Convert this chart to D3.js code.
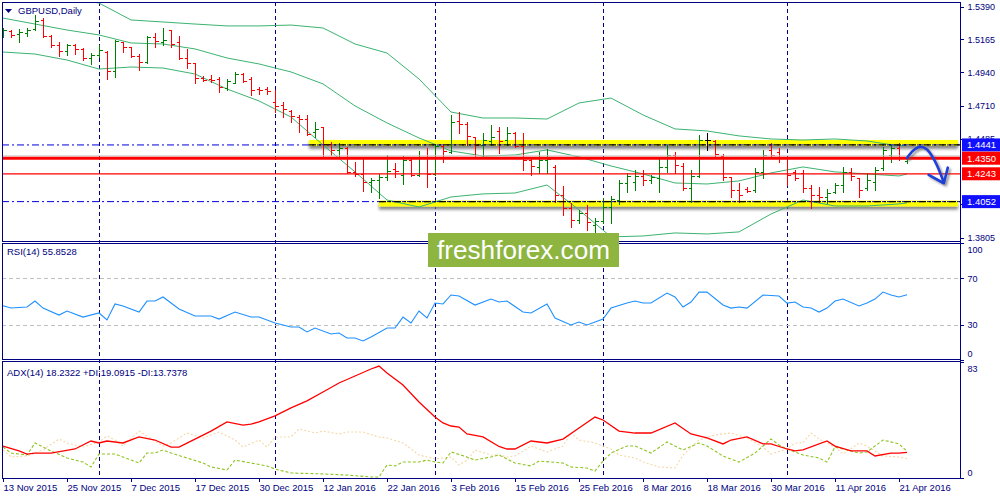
<!DOCTYPE html>
<html><head><meta charset="utf-8">
<script src="https://cdn.jsdelivr.net/npm/d3@7/dist/d3.min.js"></script>
<style>
body{margin:0;background:#fff}
svg{display:block}
text{font-family:"Liberation Sans",Arial,sans-serif}
</style></head>
<body><svg id="c" width="1000" height="500"></svg>
<script>
// ---------------- DATA ----------------
const dates = ["13 Nov 2015","16 Nov 2015","17 Nov 2015","18 Nov 2015","19 Nov 2015","20 Nov 2015","23 Nov 2015","24 Nov 2015","25 Nov 2015","26 Nov 2015","27 Nov 2015","30 Nov 2015",
"1 Dec 2015","2 Dec 2015","3 Dec 2015","4 Dec 2015","7 Dec 2015","8 Dec 2015","9 Dec 2015","10 Dec 2015","11 Dec 2015","14 Dec 2015","15 Dec 2015","16 Dec 2015","17 Dec 2015","18 Dec 2015","21 Dec 2015","22 Dec 2015","23 Dec 2015","24 Dec 2015","28 Dec 2015","29 Dec 2015","30 Dec 2015","31 Dec 2015",
"4 Jan 2016","5 Jan 2016","6 Jan 2016","7 Jan 2016","8 Jan 2016","11 Jan 2016","12 Jan 2016","13 Jan 2016","14 Jan 2016","15 Jan 2016","18 Jan 2016","19 Jan 2016","20 Jan 2016","21 Jan 2016","22 Jan 2016","25 Jan 2016","26 Jan 2016","27 Jan 2016","28 Jan 2016","29 Jan 2016",
"1 Feb 2016","2 Feb 2016","3 Feb 2016","4 Feb 2016","5 Feb 2016","8 Feb 2016","9 Feb 2016","10 Feb 2016","11 Feb 2016","12 Feb 2016","15 Feb 2016","16 Feb 2016","17 Feb 2016","18 Feb 2016","19 Feb 2016","22 Feb 2016","23 Feb 2016","24 Feb 2016","25 Feb 2016","26 Feb 2016","29 Feb 2016",
"1 Mar 2016","2 Mar 2016","3 Mar 2016","4 Mar 2016","7 Mar 2016","8 Mar 2016","9 Mar 2016","10 Mar 2016","11 Mar 2016","14 Mar 2016","15 Mar 2016","16 Mar 2016","17 Mar 2016","18 Mar 2016","21 Mar 2016","22 Mar 2016","23 Mar 2016","24 Mar 2016","25 Mar 2016","28 Mar 2016","29 Mar 2016","30 Mar 2016","31 Mar 2016",
"1 Apr 2016","4 Apr 2016","5 Apr 2016","6 Apr 2016","7 Apr 2016","8 Apr 2016","11 Apr 2016","12 Apr 2016","13 Apr 2016","14 Apr 2016","15 Apr 2016","18 Apr 2016","19 Apr 2016","20 Apr 2016","21 Apr 2016","22 Apr 2016"];

const opens = [1.5196,1.5223,1.5203,1.5209,1.5237,1.5299,1.5189,1.5127,1.5086,1.5127,1.5099,1.5038,1.5059,1.5079,1.4949,1.5147,1.5113,1.5052,1.5010,1.5182,
1.5147,1.5230,1.5147,1.5038,1.5004,1.4901,1.4894,1.4894,1.4833,1.4867,1.4929,1.4894,1.4826,1.4826,1.4736,1.4715,1.4674,1.4633,1.4619,1.4530,
1.4565,1.4448,1.4407,1.4420,1.4256,1.4242,1.4187,1.4201,1.4221,1.4276,1.4235,1.4338,1.4235,1.4359,1.4242,1.4434,1.4393,1.4606,1.4585,1.4496,
1.4441,1.4468,1.4537,1.4475,1.4523,1.4434,1.4338,1.4290,1.4338,1.4290,1.4098,1.4009,1.3926,1.3974,1.3892,1.3919,1.4015,1.4063,1.4180,1.4187,
1.4228,1.4201,1.4214,1.4290,1.4372,1.4297,1.4146,1.4228,1.4475,1.4468,1.4365,1.4221,1.4132,1.4139,1.4132,1.4256,1.4407,1.4393,1.4352,1.4256,
1.4249,1.4146,1.4098,1.4084,1.4118,1.4166,1.4256,1.4214,1.4146,1.4187,1.4283,1.4372,1.4420,1.4331];
const highs = [1.5244,1.5230,1.5237,1.5244,1.5333,1.5312,1.5196,1.5147,1.5134,1.5134,1.5106,1.5072,1.5127,1.5086,1.5161,1.5147,1.5113,1.5066,1.5189,1.5209,
1.5244,1.5230,1.5189,1.5099,1.5004,1.4915,1.4922,1.4908,1.4894,1.4942,1.4935,1.4908,1.4840,1.4840,1.4818,1.4736,1.4681,1.4647,1.4647,1.4599,
1.4565,1.4462,1.4455,1.4427,1.4324,1.4345,1.4215,1.4242,1.4372,1.4317,1.4365,1.4359,1.4400,1.4420,1.4441,1.4448,1.4647,1.4667,1.4599,1.4496,
1.4523,1.4578,1.4565,1.4565,1.4530,1.4523,1.4359,1.4393,1.4414,1.4304,1.4160,1.4043,1.3995,1.4029,1.3940,1.4077,1.4091,1.4201,1.4249,1.4269,
1.4269,1.4235,1.4359,1.4441,1.4393,1.4317,1.4269,1.4510,1.4523,1.4475,1.4379,1.4221,1.4180,1.4153,1.4283,1.4407,1.4455,1.4420,1.4359,1.4269,
1.4269,1.4166,1.4153,1.4139,1.4180,1.4290,1.4283,1.4214,1.4249,1.4290,1.4427,1.4441,1.4455,1.4352];
const lows = [1.5182,1.5182,1.5147,1.5189,1.5230,1.5182,1.5113,1.5052,1.5059,1.5066,1.5024,1.4997,1.5045,1.4894,1.4908,1.5079,1.5045,1.4956,1.5004,1.5113,
1.5127,1.5113,1.5031,1.4970,1.4867,1.4881,1.4874,1.4805,1.4818,1.4867,1.4874,1.4784,1.4791,1.4791,1.4668,1.4633,1.4599,1.4530,1.4510,1.4496,
1.4359,1.4372,1.4359,1.4249,1.4228,1.4125,1.4118,1.4077,1.4201,1.4221,1.4173,1.4228,1.4228,1.4153,1.4235,1.4324,1.4386,1.4523,1.4441,1.4359,
1.4359,1.4441,1.4386,1.4441,1.4427,1.4269,1.4235,1.4249,1.4249,1.4050,1.3961,1.3878,1.3906,1.3858,1.3844,1.3906,1.3906,1.4036,1.4118,1.4132,
1.4166,1.4180,1.4118,1.4256,1.4249,1.4132,1.4050,1.4221,1.4407,1.4359,1.4201,1.4084,1.4050,1.4118,1.4118,1.4214,1.4352,1.4324,1.4166,1.4201,
1.4118,1.4009,1.4050,1.4043,1.4112,1.4118,1.4201,1.4084,1.4132,1.4132,1.4269,1.4324,1.4338,1.4317];
const closes = [1.5230,1.5196,1.5216,1.5230,1.5292,1.5189,1.5127,1.5086,1.5127,1.5099,1.5038,1.5059,1.5093,1.4949,1.5154,1.5113,1.5052,1.5010,1.5182,1.5154,
1.5161,1.5134,1.5038,1.5004,1.4901,1.4887,1.4887,1.4840,1.4881,1.4929,1.4881,1.4818,1.4818,1.4812,1.4709,1.4688,1.4640,1.4619,1.4517,1.4551,
1.4448,1.4407,1.4420,1.4256,1.4242,1.4187,1.4201,1.4221,1.4262,1.4262,1.4338,1.4235,1.4359,1.4242,1.4434,1.4400,1.4599,1.4585,1.4503,1.4441,
1.4475,1.4496,1.4468,1.4523,1.4434,1.4338,1.4297,1.4338,1.4345,1.4098,1.4009,1.3926,1.3974,1.3912,1.3919,1.4015,1.4070,1.4180,1.4228,1.4228,
1.4201,1.4221,1.4290,1.4372,1.4304,1.4146,1.4228,1.4475,1.4475,1.4379,1.4221,1.4132,1.4098,1.4125,1.4256,1.4372,1.4372,1.4352,1.4235,1.4214,
1.4146,1.4098,1.4084,1.4112,1.4166,1.4256,1.4228,1.4132,1.4201,1.4269,1.4407,1.4420,1.4359,1.4352];

// Bollinger Bands (bar index, value)
const bbIndex  = [0,4,8,12,16,20,24,28,32,36,40,44,48,52,56,60,64,68,72,76,80,84,88,92,96,100,104,108,112,113];
const bbUpper  = [1.5546,1.5491,1.5457,1.5415,1.5299,1.5285,1.5271,1.5258,1.5258,1.5264,1.5244,1.5134,1.5072,1.4894,1.4667,1.4626,1.4626,1.4619,1.4729,1.4763,1.4647,1.4551,1.4537,1.4503,1.4482,1.4475,1.4482,1.4468,1.4434,1.4441];
const bbMiddle = [1.5312,1.5271,1.5230,1.5196,1.5141,1.5134,1.5100,1.5038,1.4997,1.4942,1.4860,1.4709,1.4592,1.4489,1.4400,1.4365,1.4372,1.4407,1.4359,1.4297,1.4242,1.4180,1.4173,1.4194,1.4249,1.4290,1.4256,1.4242,1.4228,1.4242];
const bbLower  = [1.5079,1.5065,1.5024,1.4962,1.4976,1.4969,1.4928,1.4825,1.4743,1.4633,1.4441,1.4256,1.4063,1.4015,1.4084,1.4105,1.4111,1.4166,1.3995,1.3810,1.3816,1.3837,1.3830,1.3844,1.3967,1.4063,1.4022,1.4022,1.4036,1.4043];

// RSI(14)
const rsiIndex  = [0,1,3,4,5,7,8,10,12,13,14,15,17,18,19,20,22,24,26,27,29,31,32,34,36,37,38,39,41,42,43,44,45,46,48,49,50,51,52,53,54,55,56,57,59,61,62,63,65,66,68,69,71,72,73,75,76,78,79,80,81,83,84,85,86,87,88,90,91,92,93,95,97,98,99,100,101,102,103,104,105,107,108,109,110,111,112,113];
const rsiValues = [46.5,44.5,45.4,50.5,44.5,38.5,42.0,36.8,40.3,34.3,48.0,46.3,41.1,50.5,50.5,54.0,43.7,37.7,37.7,35.1,41.1,36.8,36.8,31.7,28.3,28.3,24.0,27.4,22.3,23.1,18.8,18.8,16.3,19.7,27.4,27.4,36.8,31.7,42.0,36.0,48.8,48.0,55.7,54.8,47.1,52.2,49.7,50.5,41.1,40.3,48.0,36.0,30.0,32.5,30.0,35.1,44.5,48.8,50.5,48.8,48.8,57.4,54.0,45.4,49.7,58.2,58.2,47.1,44.5,45.4,44.5,55.7,54.8,48.8,49.7,45.4,44.5,41.1,44.5,50.5,52.2,46.3,48.8,52.2,58.2,55.7,54.0,55.85];
const rsiLevels = [70,30];
const rsiTicks  = [100,70,30,0];

// ADX(14)
const adxIndex  = [0,2,3,4,6,9,11,12,13,15,17,19,21,22,24,26,28,30,31,32,34,36,38,40,42,44,46,47,48,50,52,54,55,56,57,58,60,62,63,64,66,68,70,72,74,75,77,79,81,84,86,88,90,91,93,95,96,98,99,100,103,104,106,108,109,111,112,113];
const adxValues = [22.8,19.3,17.1,17.8,17.8,20.7,26.4,25.0,26.4,25.0,29.3,27.1,22.1,22.1,27.8,33.5,40.0,37.8,38.5,40.0,44.3,50.0,55.0,61.4,67.8,72.8,77.8,79.9,74.9,66.4,54.2,43.5,39.3,37.1,36.4,31.4,29.3,22.5,20.7,20.7,26.4,25.0,27.8,35.7,43.5,41.4,33.5,32.1,32.1,39.3,31.4,28.6,24.3,27.1,29.3,24.3,24.3,20.7,19.3,20.0,26.4,22.8,19.3,19.3,15.7,17.8,17.8,18.23];
const plusDiIndex  = [0,1,3,4,5,6,8,10,11,12,14,15,17,18,19,20,21,23,25,26,28,29,31,33,34,36,40,43,46,47,48,49,50,52,53,54,55,56,58,59,61,62,64,66,67,70,71,73,74,75,76,78,79,81,83,85,87,88,90,92,94,96,97,98,100,102,103,104,105,107,108,110,112,113];
const plusDiValues = [22.1,17.8,16.4,25.0,22.1,19.3,14.3,11.4,7.9,17.1,17.1,15.0,10.7,17.8,17.8,20.0,17.8,14.3,10.7,7.9,5.7,12.8,10.7,8.6,6.4,3.6,2.9,2.1,0.7,0.7,9.3,8.6,11.4,11.4,12.8,11.4,10.7,18.6,15.0,12.8,15.0,16.4,10.7,8.6,12.1,10.7,7.9,7.1,5.0,12.1,17.8,22.8,22.8,17.8,25.7,20.0,25.0,22.8,15.7,11.4,17.8,27.8,23.6,20.7,16.4,14.3,11.4,22.1,20.7,17.8,18.6,27.1,24.3,19.09];
const minusDiIndex  = [0,1,3,5,7,8,10,12,13,14,15,17,18,20,21,23,25,27,29,30,32,33,34,36,37,39,40,42,43,45,47,48,50,52,53,54,56,57,58,59,61,62,63,64,66,68,70,71,72,74,76,77,79,80,82,84,85,87,89,91,93,95,96,98,99,100,101,102,104,105,107,108,110,112,113];
const minusDiValues = [20.0,15.0,15.7,20.0,27.8,25.0,22.1,25.7,30.0,27.1,22.8,33.5,30.0,22.8,25.0,32.1,28.6,32.8,27.1,22.1,27.1,22.1,29.3,29.3,35.0,32.1,33.5,31.4,32.8,32.8,29.3,28.6,25.0,16.4,15.0,13.6,15.0,9.3,12.8,20.0,16.4,16.4,15.0,15.7,22.8,18.6,22.8,32.1,27.1,25.0,20.7,16.4,14.3,11.4,7.9,7.1,16.4,27.1,30.7,32.1,28.6,22.1,17.1,20.7,25.0,25.0,32.1,27.8,22.1,17.1,25.0,22.8,15.7,15.0,13.74];
const adxTicks = [83,0];

// price axis + annotation levels (1.4260 tick is fully hidden behind the 1.4243 tag in the reference)
const priceTicks = [1.5390,1.5165,1.4940,1.4710,1.4485,1.4035,1.3805];
const dateTickLabels = ["13 Nov 2015","25 Nov 2015","7 Dec 2015","17 Dec 2015","30 Dec 2015","12 Jan 2016","22 Jan 2016","3 Feb 2016","15 Feb 2016","25 Feb 2016","8 Mar 2016","18 Mar 2016","30 Mar 2016","11 Apr 2016","21 Apr 2016"];
const resistance = 1.4441, support = 1.4052, redLevel = 1.4350, redThin = 1.4243, bidPrice = 1.4366;
const zoneStart = {res: 38.25, sup: 47};   // bar index where yellow zones begin
const arrowPath = [[113,1.4352],[113.75,1.4402],[114.6,1.4428],[115.5,1.4410],[116.4,1.4338],[117,1.4269],[117.55,1.4190]];
const arrowHead = [[115.7,1.4235],[117.6,1.4178],[118.1,1.4285]];

// ---------------- DRAW ----------------
const svg = d3.select("#c");
const navy = "#000080";
const L = 2, R = 960;
const P = {mainTop:2, mainBot:241, rsiTop:243, rsiBot:359.5, adxTop:361.5, adxBot:478};

const x  = d3.scaleLinear().domain([0, dates.length-1]).range([3, 907]);
const yP = d3.scaleLinear().domain([1.3805,1.5390]).range([237.6,6.7]);
const yR = d3.scaleLinear().domain([0,100]).range([360,243.3]);
const yA = d3.scaleLinear().domain([0,83]).range([478,361.7]);

const defs = svg.append("defs");
defs.append("clipPath").attr("id","clipMain").append("rect").attr("x",L).attr("y",P.mainTop).attr("width",R-L).attr("height",P.mainBot-P.mainTop);
defs.append("clipPath").attr("id","clipRsi").append("rect").attr("x",L).attr("y",P.rsiTop).attr("width",R-L).attr("height",P.rsiBot-P.rsiTop);
defs.append("clipPath").attr("id","clipAdx").append("rect").attr("x",L).attr("y",P.adxTop).attr("width",R-L).attr("height",P.adxBot-P.adxTop);
const sh = defs.append("filter").attr("id","shadow").attr("x","-5%").attr("y","-100%").attr("width","110%").attr("height","400%");
sh.append("feDropShadow").attr("dx",0).attr("dy",3).attr("stdDeviation",1.8).attr("flood-color","#6a6a6a").attr("flood-opacity",0.8);
const sh2 = defs.append("filter").attr("id","ashadow").attr("x","-50%").attr("y","-50%").attr("width","200%").attr("height","200%");
sh2.append("feDropShadow").attr("dx",2).attr("dy",2).attr("stdDeviation",1.2).attr("flood-color","#555").attr("flood-opacity",0.6);

svg.append("rect").attr("width",1000).attr("height",500).attr("fill","#fff");

// period separators (month starts)
const monthStarts = dates.map((d,i)=>i).filter(i => i>0 && dates[i].split(" ")[1] !== dates[i-1].split(" ")[1]);
svg.append("g").selectAll("line").data(monthStarts).join("line")
  .attr("x1",i=>Math.round(x(i))+0.5).attr("x2",i=>Math.round(x(i))+0.5)
  .attr("y1",P.mainTop).attr("y2",P.adxBot)
  .attr("stroke",navy).attr("stroke-width",1).attr("stroke-dasharray","4,3").attr("shape-rendering","crispEdges");

// ---- main panel ----
const main = svg.append("g").attr("clip-path","url(#clipMain)");
// yellow zones
const zones = [{p:resistance, s:zoneStart.res, top:-5, h:6},{p:support, s:zoneStart.sup, top:-1, h:6}];
main.selectAll("rect.zone").data(zones).join("rect").attr("class","zone")
  .attr("x",d=>x(d.s)).attr("width",d=>958-x(d.s))
  .attr("y",d=>yP(d.p)+d.top).attr("height",d=>d.h)
  .attr("fill","#ffff00").attr("filter","url(#shadow)");

// Bollinger bands
const bbLine = arr => d3.line().x((d,k)=>x(bbIndex[k])).y(d=>yP(d))(arr);
[bbUpper,bbMiddle,bbLower].forEach(a=>{
  main.append("path").attr("d",bbLine(a)).attr("fill","none").attr("stroke","#3cb371").attr("stroke-width",1);
});

// OHLC bars
const bars = dates.map((d,i)=>({i,o:opens[i],h:highs[i],l:lows[i],c:closes[i]}));
const col = b => b.c>b.o ? "#008000" : (b.c<b.o ? "#ff0000" : "#000000");
const gb = main.append("g").attr("shape-rendering","crispEdges");
const bx = b => Math.round(x(b.i))+0.5;
gb.selectAll("line.hl").data(bars).join("line").attr("class","hl")
  .attr("x1",bx).attr("x2",bx).attr("y1",b=>Math.round(yP(b.h))).attr("y2",b=>Math.round(yP(b.l))+1).attr("stroke",col);
gb.selectAll("line.op").data(bars).join("line").attr("class","op")
  .attr("x1",b=>bx(b)-3).attr("x2",b=>bx(b)).attr("y1",b=>Math.round(yP(b.o))+0.5).attr("y2",b=>Math.round(yP(b.o))+0.5).attr("stroke",col);
gb.selectAll("line.cl").data(bars).join("line").attr("class","cl")
  .attr("x1",b=>bx(b)).attr("x2",b=>bx(b)+3).attr("y1",b=>Math.round(yP(b.c))+0.5).attr("y2",b=>Math.round(yP(b.c))+0.5).attr("stroke",col);

// horizontal lines
const hl = (p,color,w,dash,x0) => main.append("line").attr("x1",x0===undefined?L:x0).attr("x2",R)
  .attr("y1",yP(p)).attr("y2",yP(p)).attr("stroke",color).attr("stroke-width",w).attr("stroke-dasharray",dash||null);
hl(bidPrice,"#c8c8c8",1);
hl(redLevel,"#ff0000",3);
hl(redThin,"#ff0000",1.2);
hl(resistance,"#0000e0",1,"7,3,2,3");
hl(support,"#0000e0",1,"7,3,2,3");
hl(resistance,"#000000",1.2,"7,3,2,3",x(zoneStart.res));
hl(support,"#000000",1.2,"7,3,2,3",x(zoneStart.sup));

// ---- RSI panel ----
const rsiG = svg.append("g").attr("clip-path","url(#clipRsi)");
rsiG.selectAll("line.lv").data(rsiLevels).join("line").attr("class","lv")
  .attr("x1",L).attr("x2",R).attr("y1",d=>Math.round(yR(d))+0.5).attr("y2",d=>Math.round(yR(d))+0.5)
  .attr("stroke","#c0c0c0").attr("stroke-dasharray","4,3").attr("shape-rendering","crispEdges");
rsiG.append("path").attr("d",d3.line().x((d,k)=>x(rsiIndex[k])).y(d=>yR(d))(rsiValues))
  .attr("fill","none").attr("stroke","#1e90ff").attr("stroke-width",1.1);

// ---- ADX panel ----
const adxG = svg.append("g").attr("clip-path","url(#clipAdx)");
const ln = (idx,vals) => d3.line().x((d,k)=>x(idx[k])).y(d=>yA(d))(vals);
adxG.append("path").attr("d",ln(minusDiIndex,minusDiValues)).attr("fill","none").attr("stroke","#f5d7a8").attr("stroke-width",1.1).attr("stroke-dasharray","2,2");
adxG.append("path").attr("d",ln(plusDiIndex,plusDiValues)).attr("fill","none").attr("stroke","#8fc31f").attr("stroke-width",1.1).attr("stroke-dasharray","3,2");
adxG.append("path").attr("d",ln(adxIndex,adxValues)).attr("fill","none").attr("stroke","#ff0000").attr("stroke-width",1.3);

// ---- frames ----
const fr = svg.append("g").attr("fill","none").attr("stroke",navy).attr("stroke-width",1).attr("shape-rendering","crispEdges");
[[P.mainTop,P.mainBot],[P.rsiTop,P.rsiBot],[P.adxTop,P.adxBot]].forEach(([t,b])=>{
  fr.append("rect").attr("x",L+0.5).attr("y",Math.floor(t)+0.5).attr("width",R-L).attr("height",Math.floor(b)-Math.floor(t));
});

// ---- right axes ----
const fmt4 = d3.format(".4f");
function styleAxis(g){
  g.select(".domain").remove();
  g.selectAll(".tick line").attr("stroke",navy).attr("shape-rendering","crispEdges");
  g.selectAll(".tick text").attr("fill",navy).attr("font-size",9).attr("font-family",'"Liberation Sans",Arial,sans-serif');
}
svg.append("g").attr("transform",`translate(${R+0.5},0)`).call(d3.axisRight(yP).tickValues(priceTicks).tickFormat(fmt4).tickSize(3).tickPadding(4)).call(styleAxis);
const ra = svg.append("g").attr("transform",`translate(${R+0.5},0)`).call(d3.axisRight(yR).tickValues(rsiTicks).tickSize(3).tickPadding(4)).call(styleAxis);
ra.selectAll(".tick text").attr("dy",d=>d===100?"0.98em":(d===0?"-0.42em":"0.32em"));
const aa = svg.append("g").attr("transform",`translate(${R+0.5},0)`).call(d3.axisRight(yA).tickValues(adxTicks).tickSize(3).tickPadding(4)).call(styleAxis);
aa.selectAll(".tick text").attr("dy",d=>d===83?"1.1em":"-0.27em");
svg.append("line").attr("x1",R+0.5).attr("x2",R+0.5).attr("y1",P.mainTop).attr("y2",P.adxBot).attr("stroke",navy).attr("shape-rendering","crispEdges");

// price level labels
const tags = [{p:resistance,c:"#1010ff"},{p:redLevel,c:"#ff0000"},{p:redThin,c:"#ff0000"},{p:support,c:"#1010ff"}];
const tg = svg.append("g");
tg.selectAll("rect").data(tags).join("rect").attr("x",R+2).attr("width",38).attr("y",d=>yP(d.p)-6.5).attr("height",13).attr("fill",d=>d.c);
tg.selectAll("text").data(tags).join("text").attr("x",R+7).attr("y",d=>yP(d.p)).attr("dy","0.35em")
  .attr("fill","#fff").attr("font-size",9.5).text(d=>fmt4(d.p));

// ---- date axis ----
const dIdx = dateTickLabels.map(s=>dates.indexOf(s));
const da = svg.append("g");
da.selectAll("line").data(dIdx).join("line").attr("x1",i=>Math.round(x(i))+0.5).attr("x2",i=>Math.round(x(i))+0.5)
  .attr("y1",P.adxBot).attr("y2",P.adxBot+4).attr("stroke",navy).attr("shape-rendering","crispEdges");
da.selectAll("text").data(dIdx).join("text").attr("x",i=>x(i)+0.5).attr("y",491)
  .attr("fill",navy).attr("font-size",9.5).text(i=>dates[i]);

// ---- labels ----
svg.append("path").attr("d","M5,9 L12,9 L8.5,13 Z").attr("fill",navy);
svg.append("text").attr("x",18).attr("y",14).attr("fill",navy).attr("font-size",9.5).text("GBPUSD,Daily");
svg.append("text").attr("x",7).attr("y",255).attr("fill",navy).attr("font-size",9.5).text("RSI(14) 55.8528");
svg.append("text").attr("x",7).attr("y",375.5).attr("fill",navy).attr("font-size",9.5).text("ADX(14) 18.2322 +DI:19.0915 -DI:13.7378");

// ---- arrow annotation ----
const ag = svg.append("g").attr("filter","url(#ashadow)");
ag.append("path").attr("d",d3.line().x(d=>x(d[0])).y(d=>yP(d[1])).curve(d3.curveCatmullRom)(arrowPath))
  .attr("fill","none").attr("stroke","#1f3fd8").attr("stroke-width",2.6).attr("stroke-linecap","round");
ag.append("path").attr("d",d3.line().x(d=>x(d[0])).y(d=>yP(d[1]))(arrowHead))
  .attr("fill","none").attr("stroke","#1f3fd8").attr("stroke-width",2.6).attr("stroke-linecap","round").attr("stroke-linejoin","round");

// ---- logo ----
const logo = svg.append("g");
logo.append("rect").attr("x",428).attr("y",233).attr("width",191).attr("height",34).attr("fill","#8db53f");
logo.append("text").attr("x",437).attr("y",259).attr("fill","#fff").attr("font-size",25)
  .attr("font-family",'"Open Sans","Noto Sans",sans-serif').attr("textLength",173).attr("lengthAdjust","spacingAndGlyphs")
  .text("freshforex.com");
</script>
</body></html>
